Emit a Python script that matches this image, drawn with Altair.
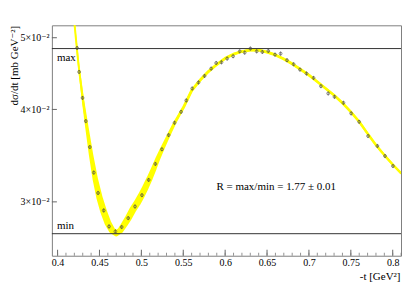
import altair as alt
import pandas as pd

# measured data points (-t in GeV^2, dsigma/dt in mb/GeV^2)
pt_t = [0.4233, 0.4257, 0.4298, 0.4337, 0.4385, 0.4432, 0.4483, 0.4551, 0.4614, 0.4690,
        0.4765, 0.4843, 0.4924, 0.5007, 0.5087, 0.5167, 0.5245, 0.5325, 0.5396, 0.5474,
        0.5536, 0.5607, 0.5682, 0.5754, 0.5833, 0.5893, 0.5956, 0.6024, 0.6095, 0.6174,
        0.6233, 0.6301, 0.6376, 0.6444, 0.6515, 0.6595, 0.6662, 0.6738, 0.6817, 0.6893,
        0.6971, 0.7055, 0.7143, 0.7230, 0.7305, 0.7412, 0.7504, 0.7599, 0.7706, 0.7817,
        0.7908, 0.8003]
pt_y = [0.04843, 0.04495, 0.04146, 0.03857, 0.03558, 0.03286, 0.03084, 0.02921, 0.02779, 0.02736,
        0.02774, 0.02852, 0.02957, 0.03063, 0.03212, 0.03376, 0.03533, 0.03693, 0.03837, 0.03970,
        0.04113, 0.04269, 0.04350, 0.04439, 0.04542, 0.04622, 0.04632, 0.04686, 0.04720, 0.04793,
        0.04774, 0.04834, 0.04793, 0.04783, 0.04798, 0.04744, 0.04759, 0.04662, 0.04604, 0.04528,
        0.04473, 0.04412, 0.04300, 0.04204, 0.04160, 0.04083, 0.03951, 0.03849, 0.03682, 0.03570,
        0.03460, 0.03354]
pt_err = [0.00030, 0.00028, 0.00026, 0.00024, 0.00022, 0.00021, 0.00020, 0.00019, 0.00018, 0.00018,
          0.00018, 0.00018, 0.00019, 0.00019, 0.00020, 0.00021, 0.00022, 0.00023, 0.00024, 0.00025,
          0.00026, 0.00027, 0.00027, 0.00028, 0.00028, 0.00029, 0.00029, 0.00029, 0.00030, 0.00030,
          0.00030, 0.00030, 0.00030, 0.00030, 0.00030, 0.00030, 0.00030, 0.00029, 0.00029, 0.00028,
          0.00028, 0.00028, 0.00027, 0.00026, 0.00026, 0.00026, 0.00025, 0.00024, 0.00023, 0.00023,
          0.00022, 0.00021]

# fitted curve with its uncertainty band (band width in px)
fit_t = [0.420, 0.425, 0.430, 0.435, 0.440, 0.445, 0.450, 0.455, 0.460, 0.465,
         0.470, 0.475, 0.480, 0.485, 0.490, 0.495, 0.500, 0.505, 0.510, 0.515,
         0.520, 0.525, 0.530, 0.535, 0.540, 0.545, 0.550, 0.560, 0.570, 0.580,
         0.590, 0.600, 0.610, 0.620, 0.630, 0.640, 0.650, 0.660, 0.670, 0.680,
         0.690, 0.700, 0.710, 0.720, 0.730, 0.740, 0.750, 0.760, 0.770, 0.780,
         0.790, 0.800, 0.810]
fit_y = [0.0525, 0.0460, 0.0414, 0.0378, 0.0347, 0.0322, 0.0304, 0.0291, 0.0281, 0.02745,
         0.0272, 0.02745, 0.0280, 0.0286, 0.0293, 0.0299, 0.0306, 0.0314, 0.0323, 0.0333,
         0.0344, 0.0354, 0.0364, 0.0374, 0.0384, 0.0393, 0.0402, 0.0424, 0.0438, 0.0450,
         0.0460, 0.0469, 0.0475, 0.0479, 0.0481, 0.0481, 0.0478, 0.0474, 0.0468, 0.0461,
         0.0453, 0.0445, 0.0436, 0.0427, 0.0418, 0.0408, 0.0397, 0.0385, 0.0371, 0.0358,
         0.0347, 0.0337, 0.0328]
fit_w = [1.0, 1.6, 2.4, 3.4, 4.4, 5.4, 6.3, 6.8, 6.8, 6.4,
         6.0, 6.0, 6.4, 6.8, 7.0, 7.0, 6.8, 6.4, 6.0, 5.4,
         4.8, 4.3, 3.8, 3.4, 3.1, 2.9, 2.8, 2.8, 2.8, 2.8,
         2.8, 2.8, 2.8, 2.8, 2.8, 2.8, 2.8, 2.8, 2.8, 2.8,
         2.8, 2.7, 2.7, 2.6, 2.6, 2.6, 2.5, 2.5, 2.5, 2.4,
         2.4, 2.3, 2.3]

x_major = [0.40, 0.45, 0.50, 0.55, 0.60, 0.65, 0.70, 0.75, 0.80]
x_minor = [0.40, 0.41, 0.42, 0.43, 0.44, 0.45, 0.46, 0.47, 0.48, 0.49,
           0.50, 0.51, 0.52, 0.53, 0.54, 0.55, 0.56, 0.57, 0.58, 0.59,
           0.60, 0.61, 0.62, 0.63, 0.64, 0.65, 0.66, 0.67, 0.68, 0.69,
           0.70, 0.71, 0.72, 0.73, 0.74, 0.75, 0.76, 0.77, 0.78, 0.79,
           0.80, 0.81]
y_ticks = [0.03, 0.04, 0.05]
max_val = 0.04834
min_val = 0.02717
x_domain = [0.3932, 0.8099]
y_domain = [0.02537, 0.05197]

W, H = 350, 231
FONT = "'Liberation Serif', 'Times New Roman', 'DejaVu Serif', serif"

xs = alt.Scale(domain=x_domain, nice=False, zero=False)
ys = alt.Scale(type="log", domain=y_domain, nice=False)

pts = pd.DataFrame({"t": pt_t, "y": pt_y, "err": pt_err})
pts["lo"] = pts["y"] - pts["err"]
pts["hi"] = pts["y"] + pts["err"]
fit = pd.DataFrame({"t": fit_t, "y": fit_y, "w": fit_w})

x_enc = alt.X("t:Q", scale=xs,
              axis=alt.Axis(values=x_major, labelExpr="format(datum.value, '.2~f')",
                            ticks=False, domain=False, grid=False, labelPadding=2,
                            labelFontSize=10, labelFont=FONT, labelColor="black",
                            title="-t [GeV²]", titleFont=FONT, titleFontSize=11,
                            titleFontWeight="normal", titleX=W - 1, titleY=21,
                            titleAlign="right", titleBaseline="middle", titleColor="black"))
y_enc = alt.Y("y:Q", scale=ys,
              axis=alt.Axis(values=y_ticks,
                            labelExpr="format(datum.value*100, '.0f') + '×10⁻²'",
                            ticks=False, domain=False, grid=False, labelPadding=3,
                            labelFontSize=10, labelFont=FONT, labelColor="black",
                            title="dσ/dt [mb GeV⁻²]", titleFont=FONT, titleFontSize=11,
                            titleFontWeight="normal", titleX=-37, titleY=0,
                            titleAngle=-90, titleAlign="right", titleBaseline="middle",
                            titleColor="black"))

band = alt.Chart(fit).mark_trail(color="#ffff00", clip=True).encode(
    x=x_enc, y=y_enc, size=alt.Size("w:Q", scale=None, legend=None), order="t:Q")
line = alt.Chart(fit).mark_line(color="#ffff00", strokeWidth=2, interpolate="monotone",
                                clip=True).encode(
    x=alt.X("t:Q", scale=xs), y=alt.Y("y:Q", scale=ys))

hlines = alt.Chart(pd.DataFrame({"v": [max_val, min_val]})).mark_rule(
    color="#333333", strokeWidth=1).encode(y=alt.Y("v:Q", scale=ys))

errbars = alt.Chart(pts).mark_rule(color="#555555", strokeWidth=0.7).encode(
    x=alt.X("t:Q", scale=xs), y=alt.Y("lo:Q", scale=ys), y2="hi:Q")
points = alt.Chart(pts).mark_point(shape="circle", filled=False, size=8, color="#444444",
                                   strokeWidth=0.7, opacity=0.85).encode(
    x=alt.X("t:Q", scale=xs), y=alt.Y("y:Q", scale=ys))

xmaj = alt.Chart(pd.DataFrame({"t": x_major})).mark_rule(color="#666666", strokeWidth=1).encode(
    x=alt.X("t:Q", scale=xs), y=alt.value(H), y2=alt.value(H - 6))
xmin = alt.Chart(pd.DataFrame({"t": x_minor})).mark_rule(color="#777777", strokeWidth=0.8).encode(
    x=alt.X("t:Q", scale=xs), y=alt.value(H), y2=alt.value(H - 3))
ytk = alt.Chart(pd.DataFrame({"v": y_ticks})).mark_rule(color="#666666", strokeWidth=1).encode(
    y=alt.Y("v:Q", scale=ys), x=alt.value(0), x2=alt.value(5))

one = pd.DataFrame({"a": [0]})
txt_max = alt.Chart(one).mark_text(align="left", baseline="middle", font=FONT, fontSize=11,
                                   color="black").encode(
    x=alt.value(5), y=alt.value(33), text=alt.value("max"))
txt_min = alt.Chart(one).mark_text(align="left", baseline="middle", font=FONT, fontSize=11,
                                   color="black").encode(
    x=alt.value(5), y=alt.value(201), text=alt.value("min"))
txt_r = alt.Chart(one).mark_text(align="left", baseline="middle", font=FONT, fontSize=11,
                                 color="black").encode(
    x=alt.value(165), y=alt.value(162), text=alt.value("R = max/min = 1.77 ± 0.01"))

chart = alt.layer(band, line, hlines, errbars, points, xmaj, xmin, ytk,
                  txt_max, txt_min, txt_r).properties(
    width=W, height=H,
    autosize=alt.AutoSizeParams(type="none"),
    padding={"left": 44, "top": 17, "right": 6, "bottom": 30},
    background="white",
).configure_view(stroke="#808080", strokeWidth=1).configure_axis(grid=False)

chart.save("out.html", embed_options={"renderer": "svg", "actions": False})
